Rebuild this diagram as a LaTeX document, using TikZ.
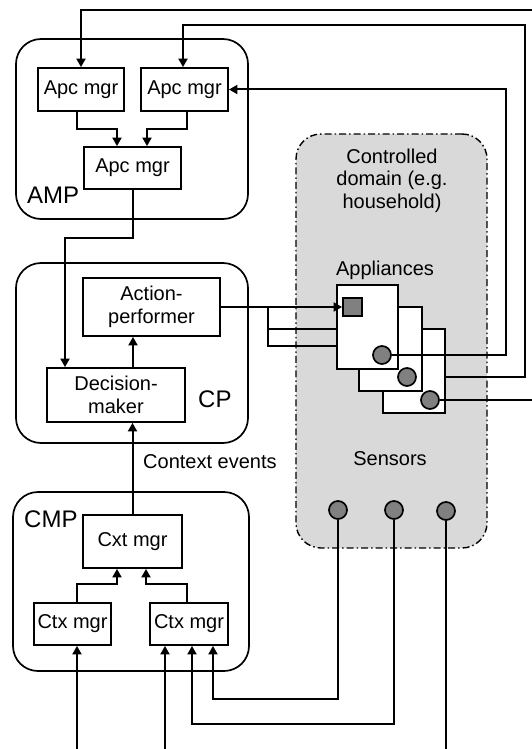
\documentclass[tikz,border=0pt]{standalone}
\usepackage{fontspec}
\setmainfont{Liberation Sans}
\usetikzlibrary{arrows.meta}
\pgfdeclarelayer{back}
\pgfdeclarelayer{behind}
\pgfsetlayers{back,behind,main}
\definecolor{midgray}{HTML}{808080}
\definecolor{domgray}{HTML}{D9D9D9}
\begin{document}
\begin{tikzpicture}[x=1pt,y=-1pt,
  every node/.style={font=\fontsize{20}{23}\selectfont},
  box/.style={draw, line width=1.8pt, fill=white, inner sep=0pt, align=center},
  grp/.style={draw, line width=1.7pt, rounded corners=25pt, inner sep=0pt},
  lbl/.style={font=\fontsize{24}{28}\selectfont, inner sep=0pt, anchor=base west},
  txt/.style={inner sep=0pt, anchor=base},
  arr/.style={line width=2pt, -{Triangle[length=8.5pt,width=9pt]}},
  arrthin/.style={line width=1.6pt, -{Triangle[length=8.5pt,width=9pt]}},
  wire/.style={line width=1.6pt},
  dot/.style={circle, draw, line width=1.7pt, fill=midgray, minimum size=18pt, inner sep=0pt}
]
\useasboundingbox (0,0) rectangle (532,749);

% controlled domain
\begin{pgfonlayer}{back}
\node[draw, line width=1.4pt, fill=domgray, rounded corners=25pt, inner sep=0pt,
  dash pattern=on 7pt off 3pt on 1.5pt off 3pt,
  minimum width=191pt, minimum height=414pt] (dom) at (391.5,341) {};
\end{pgfonlayer}
\node[txt] (cd1) at (392,163) {Controlled};
\node[txt] (cd2) at (392,185.5) {domain (e.g.};
\node[txt] (cd3) at (392,208) {household)};
\node[txt] (tapp) at (385,275) {Appliances};
\node[txt] (tsens) at (390,465) {Sensors};

% groups
\node[grp, minimum width=232pt, minimum height=180pt] (amp) at (132,129) {};
\node[grp, minimum width=232pt, minimum height=180pt] (cp) at (132,353) {};
\node[grp, minimum width=236pt, minimum height=179pt] (cmp) at (131,581.5) {};
\node[lbl] (lamp) at (27,203) {AMP};
\node[lbl] (lcp) at (198,407) {CP};
\node[lbl] (lcmp) at (24,527) {CMP};
\node[txt, anchor=base west] (ctxev) at (143,468) {Context events};

% boxes
\node[box, minimum width=86pt, minimum height=43pt] (apc1) at (81,89.5) {Apc mgr};
\node[box, minimum width=87pt, minimum height=43pt] (apc2) at (184.5,89.5) {Apc mgr};
\node[box, minimum width=97pt, minimum height=42pt] (apc3) at (132.5,168) {Apc mgr};
\node[box, minimum width=137pt, minimum height=58pt] (act) at (151.5,307) {Action-\\performer};
\node[box, minimum width=138pt, minimum height=54pt] (dec) at (116,395) {Decision-\\maker};
\node[box, minimum width=99pt, minimum height=53pt] (cxt) at (132.5,541.5) {Cxt mgr};
\node[box, minimum width=77pt, minimum height=42pt] (ctx1) at (72.5,624) {Ctx mgr};
\node[box, minimum width=78pt, minimum height=42pt] (ctx2) at (189,624) {Ctx mgr};

% appliances
\node[box, minimum width=62pt, minimum height=84pt] (app3) at (414,371) {};
\node[dot] (circ3) at (430,400) {};
\node[box, minimum width=63pt, minimum height=84pt] (app2) at (390.5,349) {};
\node[dot] (circ2) at (407,377) {};
\node[box, minimum width=61pt, minimum height=84pt] (app1) at (367.5,327) {};
\node[dot] (circ1) at (382,355) {};
\node[draw, line width=1.7pt, fill=midgray, minimum width=19pt, minimum height=18pt, inner sep=0pt] (sq) at (352.5,307) {};

% sensors
\node[dot] (sens1) at (338,510) {};
\node[dot] (sens2) at (394,510) {};
\node[dot] (sens3) at (446,511) {};

% free ends
\coordinate (e1) at (532,10);
\coordinate (e3) at (532,400);
\coordinate (b1) at (77,749);
\coordinate (b2) at (165,749);
\coordinate (b3) at (446,749);
\coordinate (br) at (268,307);

% AMP internal
\draw[arr] ([xshift=-4pt]apc1.south) -- ++(0,17) -| ([xshift=-15.5pt]apc3.north);
\draw[arr] ([xshift=2.5pt]apc2.south) -- ++(0,17) -| ([xshift=14.5pt]apc3.north);
\draw[arr] (apc3.south) -- ++(0,48) -| ([xshift=-51pt]dec.north);
% CP
\draw[arr] ([xshift=17pt]dec.north) -- ([xshift=17pt]dec.north |- act.south);
\draw[arr] (cxt.north) -- (cxt.north |- dec.south);
% CMP
\draw[arr] ([xshift=4.5pt]ctx1.north) -- ++(0,-18) -| ([xshift=-15.5pt]cxt.south);
\draw[arr] ([xshift=-2pt]ctx2.north) -- ++(0,-18) -| ([xshift=13.5pt]cxt.south);

% action performer to appliances
\draw[arrthin] (act.east) -- (sq.west);
\draw[wire] ([yshift=-2pt]app1.west) -| (br);
\draw[wire] ([yshift=-19pt]app1.west) -| (br);

% appliance feedback
\draw[arr] (circ1.east) -| ([xshift=277pt]apc2.east) -- (apc2.east);
\begin{pgfonlayer}{behind}
\draw[arr] (circ2.east) -| (525,25) -| ([xshift=-1.5pt]apc2.north);
\end{pgfonlayer}
\draw[wire] (circ3.east) -- (e3);
\draw[arr] (e1) -| (apc1.north);

% sensors
\draw[arr] (sens1.south) -- ++(0,179) -| ([xshift=24pt]ctx2.south);
\draw[arr] (sens2.south) -- ++(0,204) -| ([xshift=3pt]ctx2.south);
\draw[wire] (sens3.south) -- (b3);
\draw[arr] (b1) -- (b1 |- ctx1.south);
\draw[arr] (b2) -- (b2 |- ctx2.south);
\end{tikzpicture}
\end{document}
